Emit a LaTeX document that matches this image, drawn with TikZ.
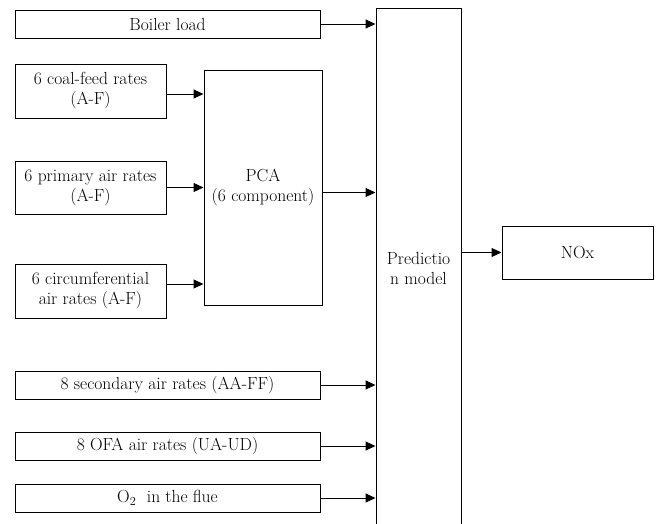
\documentclass[tikz,border=0pt]{standalone}
\usetikzlibrary{arrows.meta}
\begin{document}
\begin{tikzpicture}[x=1pt,y=-1pt,
box/.style={draw, line width=1pt, inner sep=0pt, align=center, font=\fontsize{17.5}{20}\selectfont},
feed/.style={line width=1pt, -{Triangle[length=10pt,width=9pt]}}]
\useasboundingbox (0,0) rectangle (659,523);
\clip (0,0) rectangle (659,523);

\node (load) at (167.5,24) [box, minimum width=305, minimum height=28] {Boiler load};
\node (coal) at (90.5,91) [box, minimum width=151, minimum height=54] {6 coal-feed rates\\(A-F)};
\node (prim) at (90.5,187.5) [box, minimum width=151, minimum height=53] {6 primary air rates\\(A-F)};
\node (circ) at (90.5,291) [box, minimum width=151, minimum height=54] {6 circumferential\\air rates (A-F)};
\node (pca) at (263,187.5) [box, minimum width=118, minimum height=235] {PCA\\(6 component)};
\node (sec) at (167.5,385) [box, minimum width=305, minimum height=28] {8 secondary air rates (AA-FF)};
\node (ofa) at (167.5,446) [box, minimum width=305, minimum height=28] {8 OFA air rates (UA-UD)};
\node (oxy) at (167.5,498) [box, minimum width=305, minimum height=28] {O\textsubscript{2}\ \ in the flue};
\node (pred) at (418.5,268) [box, minimum width=85, minimum height=520] {Predictio\\n model};
\node (nox) at (577.5,252.5) [box, minimum width=151, minimum height=53] {NOx};

\draw[feed]
([yshift=-3pt]coal.east) to ([yshift=-3pt]coal.east -| pca.west);
\draw[feed]
(prim.east) to (prim.east -| pca.west);
\draw[feed]
([yshift=7pt]circ.east) to ([yshift=7pt]circ.east -| pca.west);
\draw[feed]
(load.east) to (load.east -| pred.west);
\draw[feed]
([yshift=-5pt]pca.east) to ([yshift=-5pt]pca.east -| pred.west);
\draw[feed]
(sec.east) to (sec.east -| pred.west);
\draw[feed]
(ofa.east) to (ofa.east -| pred.west);
\draw[feed]
(oxy.east) to (oxy.east -| pred.west);
\draw[feed]
(pred.east |- nox.west) to (nox.west);
\end{tikzpicture}
\end{document}
